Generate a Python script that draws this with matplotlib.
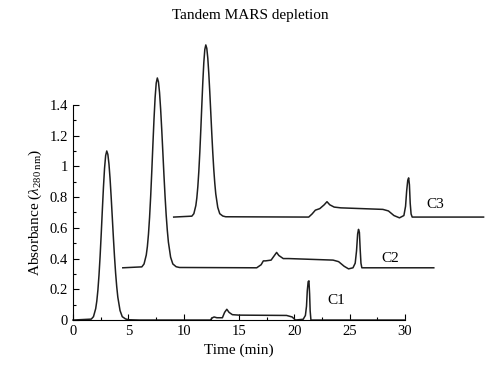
import matplotlib.pyplot as plt
from matplotlib.ticker import MultipleLocator, FormatStrFormatter

plt.rcParams['font.family'] = ['Liberation Serif', 'DejaVu Serif']
plt.rcParams['mathtext.fontset'] = 'custom'
plt.rcParams['mathtext.rm'] = 'Liberation Serif'
plt.rcParams['mathtext.it'] = 'Liberation Serif:italic'

# chromatogram traces (time in min, absorbance)
c1_t = [0, 1.65, 1.85, 2.05, 2.15, 2.25, 2.35, 2.45, 2.55, 2.65, 2.75, 2.85,
        2.95, 3.05, 3.15, 3.25, 3.35, 3.45, 3.55, 3.65, 3.75, 3.85, 3.95,
        4.05, 4.25, 4.45, 4.75, 5.05, 6.0,
        12.4, 12.6, 12.75, 13.0, 13.5, 13.7, 13.9, 14.1, 14.4, 15.0, 19.3,
        19.8, 20.1, 20.8, 21.0, 21.1, 21.17, 21.25, 21.32, 21.38, 21.43,
        21.5, 30.0]
c1_a = [0, 0.006, 0.022, 0.074, 0.123, 0.195, 0.293, 0.416, 0.560, 0.714,
        0.862, 0.987, 1.070, 1.10, 1.078, 1.015, 0.919, 0.799, 0.668, 0.536,
        0.413, 0.306, 0.218, 0.149, 0.062, 0.022, 0.007, 0.002, 0,
        0, 0.015, 0.02, 0.015, 0.015, 0.05, 0.07, 0.05, 0.035, 0.032, 0.03,
        0.02, 0.0, 0.005, 0.03, 0.09, 0.19, 0.25, 0.255, 0.17, 0.06, 0.0, 0]

c2_t = [4.5, 6.22, 6.42, 6.62, 6.72, 6.82, 6.92, 7.02, 7.12, 7.22, 7.32,
        7.42, 7.52, 7.62, 7.72, 7.82, 7.92, 8.02, 8.12, 8.22, 8.32, 8.42,
        8.52, 8.62, 8.82, 9.02, 9.32, 9.62,
        16.6, 17.0, 17.2, 17.4, 17.9, 18.2, 18.4, 18.6, 19.0, 19.5, 23.5,
        24.0, 24.5, 24.9, 25.3, 25.5, 25.62, 25.72, 25.8, 25.88, 25.95, 26.02,
        26.1, 32.6]
c2_a = [0.34, 0.346, 0.365, 0.423, 0.478, 0.559, 0.669, 0.807, 0.969, 1.142,
        1.308, 1.448, 1.542, 1.575, 1.550, 1.480, 1.371, 1.237, 1.090, 0.941,
        0.803, 0.683, 0.585, 0.507, 0.409, 0.365, 0.347, 0.342,
        0.34, 0.36, 0.385, 0.385, 0.39, 0.42, 0.44, 0.42, 0.40, 0.40, 0.39,
        0.38, 0.35, 0.333, 0.34, 0.37, 0.45, 0.56, 0.59, 0.57, 0.46, 0.37,
        0.34, 0.34]

c3_t = [9.1, 10.74, 10.92, 11.10, 11.19, 11.28, 11.37, 11.46, 11.55, 11.64,
        11.73, 11.82, 11.91, 12.0, 12.09, 12.18, 12.27, 12.36, 12.45, 12.54,
        12.63, 12.72, 12.81, 12.90, 13.08, 13.26, 13.53, 13.80,
        21.3, 21.6, 21.9, 22.3, 22.7, 22.95, 23.2, 23.6, 24.2, 28.0, 28.5,
        29.0, 29.5, 29.9, 30.05, 30.15, 30.25, 30.33, 30.4, 30.47, 30.55,
        30.65, 37.1]
c3_a = [0.67, 0.676, 0.692, 0.745, 0.795, 0.868, 0.968, 1.093, 1.240, 1.397,
        1.548, 1.675, 1.760, 1.79, 1.768, 1.704, 1.605, 1.483, 1.350, 1.215,
        1.090, 0.981, 0.892, 0.821, 0.733, 0.692, 0.677, 0.672,
        0.67, 0.69, 0.715, 0.725, 0.75, 0.77, 0.75, 0.735, 0.73, 0.72, 0.71,
        0.68, 0.665, 0.68, 0.74, 0.84, 0.91, 0.925, 0.88, 0.76, 0.69, 0.67,
        0.67]

labels = ['C1', 'C2', 'C3']
label_pos = [(23.0, 0.13), (27.9, 0.40), (31.9, 0.75)]

fig = plt.figure(figsize=(5, 3.87), dpi=100)
ax = fig.add_axes([0.146, 0.173, 0.664, 0.556])

for t, a in [(c1_t, c1_a), (c2_t, c2_a), (c3_t, c3_a)]:
    ax.plot(t, a, color='#1e1e1e', lw=1.1, clip_on=False)

for lab, (x, y) in zip(labels, label_pos):
    ax.text(x, y, lab, fontsize=11, va='center', ha='left')

ax.set_xlim(0, 30)
ax.set_ylim(0, 1.4)
ax.spines['top'].set_visible(False)
ax.spines['right'].set_visible(False)
ax.xaxis.set_major_locator(MultipleLocator(5))
ax.xaxis.set_minor_locator(MultipleLocator(2.5))
ax.yaxis.set_major_locator(MultipleLocator(0.2))
ax.yaxis.set_minor_locator(MultipleLocator(0.1))
ax.yaxis.set_major_formatter(FormatStrFormatter('%g'))
ax.tick_params(which='both', direction='in', labelsize=10.5, width=0.8)
ax.tick_params(which='major', length=4)
ax.tick_params(which='minor', length=2.5)

ax.set_xlabel('Time (min)', fontsize=11)
ax.set_ylabel(r'Absorbance ($\lambda_{280\ \mathrm{nm}}$)', fontsize=11)
fig.text(0.5, 0.96, 'Tandem MARS depletion', ha='center', va='center', fontsize=11)

fig.savefig('out.png', dpi=100)
